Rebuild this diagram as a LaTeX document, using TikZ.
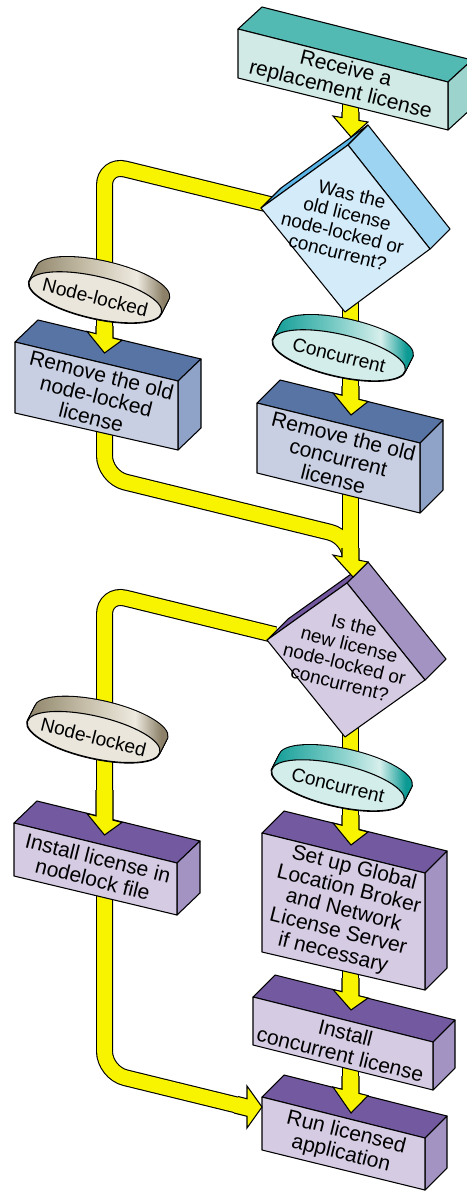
\documentclass[tikz,border=0pt]{standalone}
\usepackage{fontspec}
\setmainfont{Liberation Sans}
\usetikzlibrary{calc}
\definecolor{ylw}{RGB}{248,244,0}
\definecolor{tealTop}{RGB}{82,186,179}
\definecolor{tealFront}{RGB}{210,234,230}
\definecolor{tealSide}{RGB}{157,211,205}
\definecolor{blueTop}{RGB}{87,116,165}
\definecolor{blueFront}{RGB}{200,207,227}
\definecolor{blueSide}{RGB}{143,162,199}
\definecolor{purTop}{RGB}{115,90,160}
\definecolor{purFront}{RGB}{213,203,227}
\definecolor{purSide}{RGB}{163,147,195}
\definecolor{purStrip}{RGB}{115,88,160}
\definecolor{skyFront}{RGB}{212,235,249}
\definecolor{skySide}{RGB}{157,212,241}
\definecolor{skyStrip}{RGB}{91,181,230}
\definecolor{nlFace}{RGB}{234,230,220}
\definecolor{nlDark}{RGB}{140,129,104}
\definecolor{nlMid}{RGB}{196,188,166}
\definecolor{nlLight}{RGB}{238,234,224}
\definecolor{ccFace}{RGB}{211,237,234}
\definecolor{ccDark}{RGB}{12,154,148}
\definecolor{ccMid}{RGB}{110,198,192}
\definecolor{ccLight}{RGB}{214,239,236}
\pgfdeclarehorizontalshading{nlband}{100bp}{color(0bp)=(nlDark); color(25bp)=(nlDark); color(45bp)=(nlMid); color(63bp)=(nlLight); color(72bp)=(nlDark); color(100bp)=(nlDark)}
\pgfdeclarehorizontalshading{ccband}{100bp}{color(0bp)=(ccDark); color(25bp)=(ccDark); color(45bp)=(ccMid); color(63bp)=(ccLight); color(72bp)=(ccDark); color(100bp)=(ccDark)}
% cuboid: front TL, front TR, front BR, front BL, depth, colour prefix
\newcommand\cuboid[6]{%
  \filldraw[face,fill=#6Top] (#1) -- (#2) -- ($(#2)+(#5)$) -- ($(#1)+(#5)$) -- cycle;
  \filldraw[face,fill=#6Side] (#2) -- ($(#2)+(#5)$) -- ($(#3)+(#5)$) -- (#3) -- cycle;
  \filldraw[face,fill=#6Front] (#1) -- (#2) -- (#3) -- (#4) -- cycle;}
% tilted box (decision): L, T, R, B, depth, colour prefix
\newcommand\rbox[6]{%
  \filldraw[face,fill=#6Strip] (#1) -- ($(#1)+(#5)$) -- ($(#2)+(#5)$) -- (#2) -- cycle;
  \filldraw[face,fill=#6Side] (#2) -- ($(#2)+(#5)$) -- ($(#3)+(#5)$) -- (#3) -- cycle;
  \filldraw[face,fill=#6Front] (#1) -- (#2) -- (#3) -- (#4) -- cycle;}
% disc label: name, centre, face colour, band shading, text
\newcommand\disc[5]{%
  \begin{scope}[shift={(#2)},rotate=-13]
    \foreach \t in {0,0.1,...,1.01}{\draw[line width=1.6pt] (4*\t,-16*\t) ellipse (68 and 21);}
    \shade[shading=#4] (0,0) ellipse (68 and 21)
      \foreach \t in {0.1,0.2,...,1.01}{(4*\t,-16*\t) ellipse (68 and 21)};
    \filldraw[fill=#3,line width=0.8pt] (0,0) ellipse (68 and 21);
  \end{scope}
  \node[lbltxt] (#1) at (#2) {#5};}
% vertical arrow head: centre x, start y, left barb y, right barb y, tip x, tip y
\newcommand\yhead[6]{%
  \pgfmathsetmacro\yhA{#3+0.257*(#4-#3)}%
  \pgfmathsetmacro\yhB{#4-0.257*(#4-#3)}%
  \filldraw[head] ({#1-8.5},#2) -- ({#1-8.5},\yhA) -- ({#1-17.5},#3) -- (#5,#6)
     -- ({#1+17.5},#4) -- ({#1+8.5},\yhB) -- ({#1+8.5},#2);}
\begin{document}
\begin{tikzpicture}[x=0.75pt,y=-0.75pt,
  face/.style={draw=black,line width=0.8pt,line join=round},
  head/.style={fill=ylw,draw=black,line width=0.8pt,line join=miter},
  outer/.style={draw=black,line width=12.75pt,rounded corners=16pt},
  inner/.style={draw=ylw,line width=11.1pt,rounded corners=16pt},
  boxtxt/.style={rotate=-14,align=center,inner sep=0pt,font=\fontsize{15.8}{16.4}\selectfont},
  qtxt/.style={rotate=-14,align=center,inner sep=0pt,font=\fontsize{14.2}{14.9}\selectfont},
  lbltxt/.style={rotate=-14,inner sep=0pt,font=\fontsize{14.4}{15}\selectfont}]
\useasboundingbox (0,0) rectangle (467,1191);
\clip (0,0) rectangle (467,1191);
% connector way points
\coordinate (a1) at (350.5,100);  \coordinate (a2) at (350.5,125);
\coordinate (b1) at (275,205.8);  \coordinate (b2) at (104.5,164);  \coordinate (b3) at (104.5,340);
\coordinate (c1) at (350.5,295);  \coordinate (c2) at (350.5,398);
\coordinate (d1) at (104.5,430);  \coordinate (d2) at (104.5,477);  \coordinate (d3) at (350.5,537.3); \coordinate (d4) at (350.5,562);
\coordinate (e1) at (350.5,490);  \coordinate (e2) at (350.5,562);
\coordinate (f1) at (275,634.8);  \coordinate (f2) at (104.5,593);  \coordinate (f3) at (104.5,815);
\coordinate (g1) at (350.5,722);  \coordinate (g2) at (350.5,826);
\coordinate (h1) at (350.5,965);  \coordinate (h2) at (350.5,992);
\coordinate (i1) at (350.5,1065); \coordinate (i2) at (350.5,1092);
\coordinate (j1) at (104.5,890);  \coordinate (j2) at (104.5,1072.6); \coordinate (j3) at (242,1106.3);
% yellow connectors
\foreach \s in {outer,inner}{
  \path[\s] (a1) -- (a2);
  \path[\s] (b1) -- (b2) -- (b3);
  \path[\s] (c1) -- (c2);
  \path[\s] (d1) -- (d2) -- (d3) -- (d4);
  \path[\s] (e1) -- (e2);
  \path[\s] (f1) -- (f2) -- (f3);
  \path[\s] (g1) -- (g2);
  \path[\s] (h1) -- (h2);
  \path[\s] (i1) -- (i2);
  \path[\s] (j1) -- (j2) -- (j3);
}
% boxes
\cuboid{238,29}{448,82}{448,130}{238,78}{24,-22}{teal}
\node[boxtxt] (n1) at (343,80) {Receive a\\replacement license};
\cuboid{15,342}{178,381}{178,450}{15,413}{23,-22}{blue}
\node[boxtxt] (n2) at (96.5,396) {Remove the old\\node-locked\\license};
\cuboid{257,403}{420,443}{420,513}{257,473}{23,-23}{blue}
\node[boxtxt] (n3) at (338.5,457.5) {Remove the old\\concurrent\\license};
\cuboid{14,823}{177,863}{177,915}{14,876}{23,-22}{pur}
\node[boxtxt] (n4) at (95.5,868.5) {Install license in\\nodelock file};
\cuboid{262,833}{425,873}{425,990}{262,952}{22,-22}{pur}
\node[boxtxt] (n5) at (343.5,911) {Set up Global\\Location Broker\\and Network\\License Server\\if necessary};
\cuboid{253,997}{433,1042}{433,1090}{253,1045}{22,-22}{pur}
\node[boxtxt] (n6) at (343,1043.5) {Install\\concurrent license};
\cuboid{262,1097}{425,1138}{425,1190}{262,1150}{22,-22}{pur}
\node[boxtxt] (n7) at (343.5,1143.5) {Run licensed\\application};
% decisions
\rbox{261,208}{348,145}{430,249}{345,312}{20,-20}{sky}
\node[qtxt] (q1) at (345,223) {Was the\\old license\\node-locked or\\concurrent?};
\rbox{267,640}{347,583}{425,680}{345,737}{21,-21}{pur}
\node[qtxt] (q2) at (347,654) {Is the\\new license\\node-locked or\\concurrent?};
% labels
\disc{l1}{95.3,297.3}{nlFace}{nlband}{Node-locked}
\disc{l2}{339,355.3}{ccFace}{ccband}{Concurrent}
\disc{l3}{93.6,737}{nlFace}{nlband}{Node-locked}
\disc{l4}{338,785.3}{ccFace}{ccband}{Concurrent}
% arrow heads
\yhead{350.5}{112}{116}{122}{351}{137}
\yhead{104.5}{326}{331.4}{340.3}{104.5}{353}
\yhead{350.5}{386}{393}{401.6}{351}{415}
\yhead{350.5}{548}{555}{562}{353}{577}
\yhead{104.5}{790}{813.6}{822.4}{104.5}{835}
\yhead{350.5}{815}{823}{832}{351}{845}
\yhead{350.5}{978}{989.5}{998}{351}{1010}
\yhead{350.5}{1076}{1087}{1095.6}{351}{1113}
\filldraw[head] (238,1096.5) -- (247,1098.75) -- (247,1086) -- (262,1107) -- (247,1128) -- (247,1116.25) -- (234,1113);
\end{tikzpicture}
\end{document}
